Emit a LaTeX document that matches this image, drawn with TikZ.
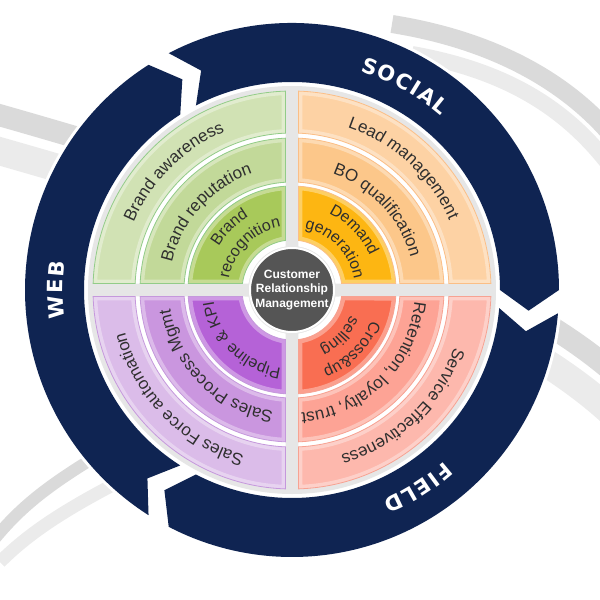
\documentclass[tikz,border=0pt]{standalone}
\usepackage{fontspec}
\setmainfont{Liberation Sans}
\newfontfamily\bandface{DejaVu Sans}
\usetikzlibrary{decorations.text}

\definecolor{navyring}{HTML}{0F2452}
\definecolor{diskgray}{HTML}{E6E6E6}
\definecolor{swooshdark}{HTML}{DADADA}
\definecolor{swooshlight}{HTML}{EBEBEB}
\definecolor{greenout}{HTML}{D1E2B4}
\definecolor{greenmid}{HTML}{C2D999}
\definecolor{greenin}{HTML}{A8C95A}
\definecolor{greenline}{HTML}{92CC88}
\definecolor{orangeout}{HTML}{FDD2A4}
\definecolor{orangemid}{HTML}{FCC78A}
\definecolor{orangein}{HTML}{FDB612}
\definecolor{orangeline}{HTML}{FBBE86}
\definecolor{purpleout}{HTML}{DBBCE9}
\definecolor{purplemid}{HTML}{CA96DF}
\definecolor{purplein}{HTML}{B562D7}
\definecolor{purpleline}{HTML}{C598DC}
\definecolor{redout}{HTML}{FDB8AD}
\definecolor{redmid}{HTML}{FDA395}
\definecolor{redin}{HTML}{F96E52}
\definecolor{redline}{HTML}{F7A292}
\definecolor{hubgray}{HTML}{555555}
\definecolor{labeltext}{HTML}{2F2F2F}

\newcommand\gap{6.5}
\newcommand\ringfont{\color{labeltext}\fontsize{17}{20}\selectfont}
\newcommand\hubfont{\color{labeltext}\fontsize{16}{19}\selectfont}
\newcommand\bandfont{\color{white}\bandface\bfseries\fontsize{21}{24}\selectfont}
\newcommand\ls{{\kern1.5pt}}

% quadrant #1, radii #2..#3
\newcommand\sectorpath[3]{({#1+asin(\gap/#3)}:#3) arc[start angle={#1+asin(\gap/#3)}, end angle={#1+90-asin(\gap/#3)}, radius=#3]
    -- ({#1+90-asin(\gap/#2)}:#2) arc[start angle={#1+90-asin(\gap/#2)}, end angle={#1+asin(\gap/#2)}, radius=#2] -- cycle}
\newcommand\sector[5]{%
  \begin{scope}
    \clip \sectorpath{#1}{#2}{#3};
    \fill[#4] \sectorpath{#1}{#2}{#3};
    \draw[white, opacity=0.35, line width=8] \sectorpath{#1}{#2}{#3};
  \end{scope}
  \draw[#5, line width=0.8] \sectorpath{#1}{#2}{#3};}

% navy arrow, clockwise from #1 to #2
\newcommand\navyarrow[2]{%
  \fill[navyring] (#1:267) arc[start angle=#1, end angle=#2, radius=267]
    -- ({#2-5}:237.5) -- (#2:208) arc[start angle=#2, end angle=#1, radius=208]
    -- ({#1-5}:237.5) -- cycle;}

% text on a clockwise arc round angle #1, radius #2
\newcommand\arctext[4]{%
  \path[decorate, decoration={text along path, text align=center, text={|#4|#3}}]
    ({#1+80}:#2) arc[start angle={#1+80}, end angle={#1-80}, radius=#2];}

\begin{document}
\begin{tikzpicture}[x=1pt, y=1pt]
\useasboundingbox (-292,-310) rectangle (308,290);

% swooshes
\draw[swooshdark, line width=22] (-300,177) .. controls (-100,120) and (200,30) .. (330,-90);
\draw[swooshlight, line width=28] (-300,141) .. controls (-100,84) and (190,-3) .. (320,-123);
\draw[swooshdark, line width=12] (-300,-252) .. controls (-270,-215) and (-240,-190) .. (-150,-140);
\draw[swooshlight, line width=13] (-292,-272) .. controls (-260,-240) and (-220,-215) .. (-150,-180);
\draw[swooshdark, line width=18] (100,266) .. controls (200,250) and (270,210) .. (315,160);
\draw[swooshlight, line width=16] (120,236) .. controls (210,220) and (270,185) .. (315,128);
\fill[white] (0,0) circle (270);

% outer ring
\navyarrow{237.5}{122.5}
\navyarrow{117.5}{0}
\navyarrow{-5}{-117.5}
\arctext{61}{229}{S\ls O\ls C\ls I\ls A\ls L}{\bandfont}
\arctext{180}{229}{W\ls E\ls B}{\bandfont}
\arctext{-57.5}{229}{F\ls I\ls E\ls L\ls D}{\bandfont}

\fill[diskgray] (0,0) circle (204);
\foreach \q in {0,90,180,270}
  \fill[white] \sectorpath{\q}{44}{199};

\sector{90}{157}{199}{greenout}{greenline}
\sector{90}{108}{152}{greenmid}{greenline}
\sector{90}{50}{104}{greenin}{greenline}
\sector{0}{157}{199}{orangeout}{orangeline}
\sector{0}{108}{152}{orangemid}{orangeline}
\sector{0}{50}{104}{orangein}{orangeline}
\sector{180}{157}{199}{purpleout}{purpleline}
\sector{180}{108}{152}{purplemid}{purpleline}
\sector{180}{50}{104}{purplein}{purpleline}
\sector{270}{157}{199}{redout}{redline}
\sector{270}{108}{152}{redmid}{redline}
\sector{270}{50}{104}{redin}{redline}

\node[circle, fill=hubgray, draw=white, line width=2, minimum size=84, inner sep=0, align=center,
  text=white, font=\bfseries\fontsize{12}{14.5}\selectfont] (crm) at (0,0) {Customer\\Relationship\\Management};

\arctext{135}{172}{Brand awareness}{\ringfont}
\arctext{138}{123}{Brand reputation}{\ringfont}
\arctext{135}{85}{Brand}{\hubfont}
\arctext{135}{64}{recognition}{\hubfont}
\arctext{47.5}{172}{Lead management}{\ringfont}
\arctext{43}{123}{BO qualification}{\ringfont}
\arctext{44}{85}{Demand}{\hubfont}
\arctext{44}{63}{generation}{\hubfont}
\arctext{-136}{172}{Sales Force automation}{\ringfont}
\arctext{-135}{123}{Sales Process Mgmt}{\ringfont}
\arctext{-135}{79}{Pipeline {\&} KPI}{\hubfont}
\arctext{-46.5}{172}{Service Effectiveness}{\ringfont}
\arctext{-45.5}{123}{Retention, loyalty, trust}{\ringfont}
\arctext{-45}{85}{Cross{\&}up}{\hubfont}
\arctext{-44}{64}{selling}{\hubfont}
\end{tikzpicture}
\end{document}
